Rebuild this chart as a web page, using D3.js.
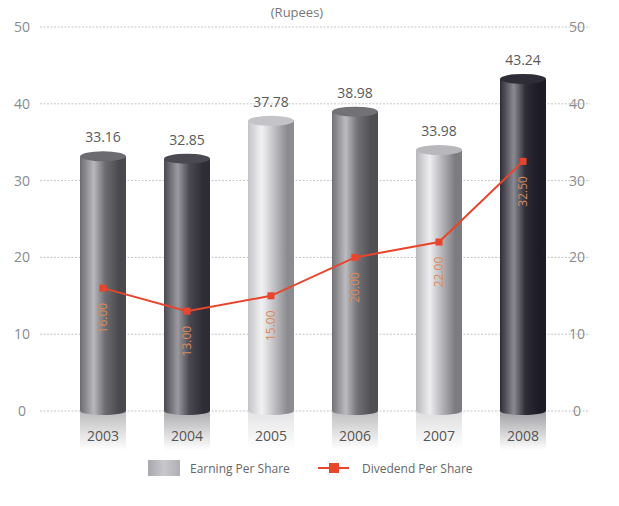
<!DOCTYPE html>
<html>
<head>
<meta charset="utf-8">
<script src="https://cdn.jsdelivr.net/npm/d3@7"></script>
<style>
  body { margin: 0; background: #fff; }
  text { font-family: "Open Sans", "DejaVu Sans", sans-serif; }
</style>
</head>
<body>
<div id="chart"></div>
<script>
// data
var years = ["2003", "2004", "2005", "2006", "2007", "2008"];
var eps = [33.16, 32.85, 37.78, 38.98, 33.98, 43.24];
var dps = [16.00, 13.00, 15.00, 20.00, 22.00, 32.50];
var yTicks = [0, 10, 20, 30, 40, 50];

// shading of each cylinder (dark edge, highlight, mid)
var barShades = [
    ["#4a4a4e", "#b8b8bc", "#6c6c70"],
    ["#2e2c34", "#9a9aa0", "#4a4850"],
    ["#8c8c90", "#f2f2f4", "#c4c4c8"],
    ["#505054", "#bcbcc0", "#727276"],
    ["#7c7c80", "#eeeef0", "#b8b8bc"],
    ["#1c1a24", "#8a8a92", "#2e2c36"]
];

var width = 619, height = 506;
var svg = d3.select("#chart").append("svg")
    .attr("width", width)
    .attr("height", height);

var defs = svg.append("defs");

var x = d3.scalePoint().domain(years).range([103, 523]);
var y = d3.scaleLinear().domain([0, 50]).range([411, 27]);
var barW = 46;

// gradients for cylinders
barShades.forEach(function (s, i) {
    var g = defs.append("linearGradient").attr("id", "cyl" + i)
        .attr("x1", "0%").attr("x2", "100%").attr("y1", "0%").attr("y2", "0%");
    g.append("stop").attr("offset", "0%").attr("stop-color", s[2]);
    g.append("stop").attr("offset", "30%").attr("stop-color", s[1]);
    g.append("stop").attr("offset", "55%").attr("stop-color", s[2]);
    g.append("stop").attr("offset", "85%").attr("stop-color", s[0]);
    g.append("stop").attr("offset", "100%").attr("stop-color", s[0]);

    var r = defs.append("linearGradient").attr("id", "refl" + i)
        .attr("x1", "0%").attr("x2", "0%").attr("y1", "0%").attr("y2", "100%");
    r.append("stop").attr("offset", "0%").attr("stop-color", s[2]).attr("stop-opacity", 0.45);
    r.append("stop").attr("offset", "100%").attr("stop-color", s[2]).attr("stop-opacity", 0);
});

var lg = defs.append("linearGradient").attr("id", "legendSwatch")
    .attr("x1", "0%").attr("x2", "100%");
lg.append("stop").attr("offset", "0%").attr("stop-color", "#a8a8ac");
lg.append("stop").attr("offset", "50%").attr("stop-color", "#c8c8cc");
lg.append("stop").attr("offset", "100%").attr("stop-color", "#b0b0b4");

// title
svg.append("text")
    .attr("x", 297).attr("y", 17)
    .attr("text-anchor", "middle")
    .style("font-size", "13px")
    .style("fill", "#777")
    .text("(Rupees)");

// gridlines
svg.selectAll(".grid")
    .data(yTicks)
    .enter().append("line")
    .attr("x1", 40).attr("x2", 590)
    .attr("y1", function (d) { return y(d); })
    .attr("y2", function (d) { return y(d); })
    .attr("stroke", "#b8b8b8")
    .attr("stroke-width", 0.8)
    .attr("stroke-dasharray", "2,1.5");

// left and right axis labels
[22, 577].forEach(function (px) {
    svg.selectAll(".tick" + px)
        .data(yTicks)
        .enter().append("text")
        .attr("x", px)
        .attr("y", function (d) { return y(d) + 5; })
        .attr("text-anchor", "middle")
        .style("font-size", "14px")
        .style("fill", "#8a8a8a")
        .text(function (d) { return d; });
});

// reflections under bars
svg.selectAll(".refl")
    .data(eps)
    .enter().append("rect")
    .attr("x", function (d, i) { return x(years[i]) - barW / 2; })
    .attr("y", y(0) + 1)
    .attr("width", barW)
    .attr("height", 38)
    .attr("fill", function (d, i) { return "url(#refl" + i + ")"; });

// cylinders
var bars = svg.selectAll(".bar")
    .data(eps)
    .enter().append("g");

bars.append("rect")
    .attr("x", function (d, i) { return x(years[i]) - barW / 2; })
    .attr("y", function (d) { return y(d); })
    .attr("width", barW)
    .attr("height", function (d) { return y(0) - y(d); })
    .attr("fill", function (d, i) { return "url(#cyl" + i + ")"; });

bars.append("ellipse")
    .attr("cx", function (d, i) { return x(years[i]); })
    .attr("cy", y(0))
    .attr("rx", barW / 2)
    .attr("ry", 4)
    .attr("fill", function (d, i) { return "url(#cyl" + i + ")"; });

bars.append("ellipse")
    .attr("cx", function (d, i) { return x(years[i]); })
    .attr("cy", function (d) { return y(d); })
    .attr("rx", barW / 2)
    .attr("ry", 5)
    .attr("fill", function (d, i) { return barShades[i][2]; });

// value labels over bars
svg.selectAll(".val")
    .data(eps)
    .enter().append("text")
    .attr("x", function (d, i) { return x(years[i]); })
    .attr("y", function (d) { return y(d) - 14; })
    .attr("text-anchor", "middle")
    .style("font-size", "14px")
    .style("fill", "#5a5a5a")
    .text(function (d) { return d.toFixed(2); });

// year labels
svg.selectAll(".year")
    .data(years)
    .enter().append("text")
    .attr("x", function (d) { return x(d); })
    .attr("y", 441)
    .attr("text-anchor", "middle")
    .style("font-size", "14px")
    .style("fill", "#555")
    .text(function (d) { return d; });

// dividend line
var line = d3.line()
    .x(function (d, i) { return x(years[i]); })
    .y(function (d) { return y(d); });

svg.append("path")
    .attr("d", line(dps))
    .attr("fill", "none")
    .attr("stroke", "#e8452c")
    .attr("stroke-width", 2);

svg.selectAll(".dot")
    .data(dps)
    .enter().append("rect")
    .attr("x", function (d, i) { return x(years[i]) - 3.5; })
    .attr("y", function (d) { return y(d) - 3.5; })
    .attr("width", 7)
    .attr("height", 7)
    .attr("fill", "#e8452c");

// rotated dividend labels inside cylinders
svg.selectAll(".dlab")
    .data(dps)
    .enter().append("text")
    .attr("transform", function (d, i) {
        return "translate(" + x(years[i]) + "," + (y(d) + 30) + ") rotate(-90)";
    })
    .attr("dy", "0.35em")
    .attr("text-anchor", "middle")
    .style("font-size", "12px")
    .style("fill", "#d9895c")
    .text(function (d) { return d.toFixed(2); });

// legend
svg.append("rect")
    .attr("x", 148).attr("y", 460)
    .attr("width", 32).attr("height", 16)
    .attr("fill", "url(#legendSwatch)");
svg.append("text")
    .attr("x", 190).attr("y", 473)
    .style("font-size", "12px")
    .style("fill", "#666")
    .text("Earning Per Share");

svg.append("line")
    .attr("x1", 318).attr("x2", 349)
    .attr("y1", 468).attr("y2", 468)
    .attr("stroke", "#e8452c")
    .attr("stroke-width", 2);
svg.append("rect")
    .attr("x", 329).attr("y", 463)
    .attr("width", 10).attr("height", 10)
    .attr("fill", "#e8452c");
svg.append("text")
    .attr("x", 362).attr("y", 473)
    .style("font-size", "12px")
    .style("fill", "#666")
    .text("Divedend Per Share");
</script>
</body>
</html>
